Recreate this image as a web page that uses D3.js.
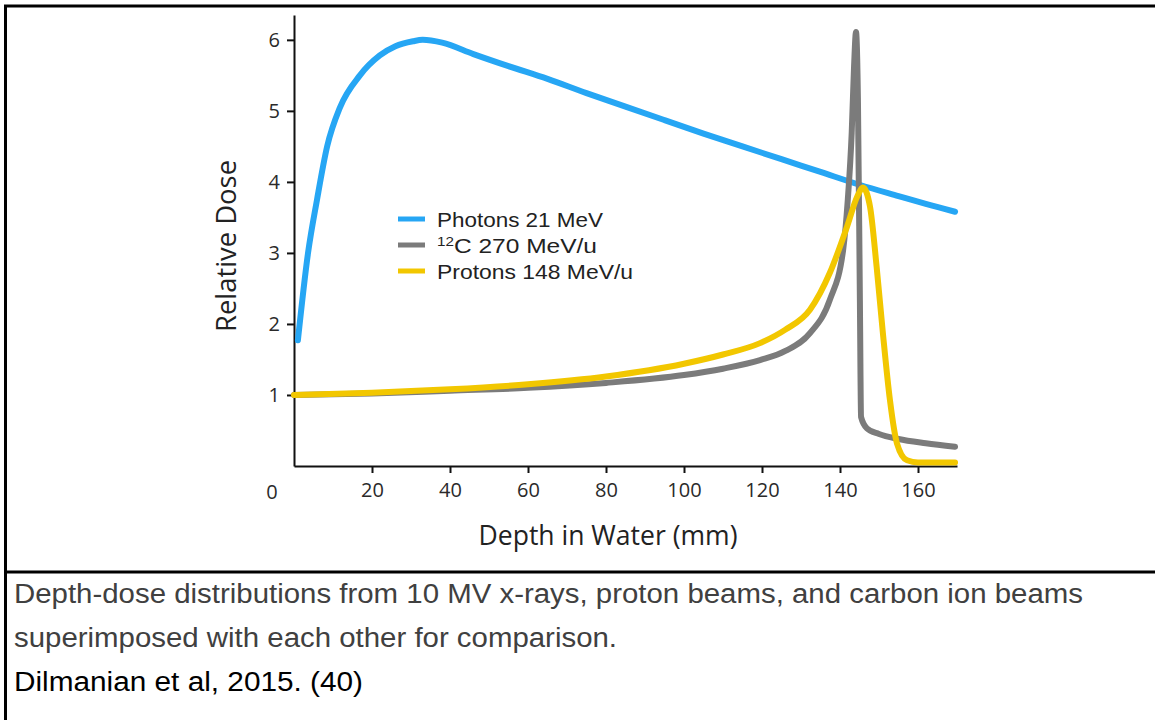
<!DOCTYPE html>
<meta charset="utf-8">
<style>
body { margin: 0; background: #fff; }
.curve { fill: none; stroke-width: 6px; stroke-linejoin: round; stroke-linecap: round; }
.axis path, .axis line { stroke: #111; stroke-width: 2px; }
.axis .tick text, .origin { font-family: "Open Sans", sans-serif; font-size: 20px; fill: #2a2a2a; }
.title { font-family: "Open Sans", sans-serif; font-size: 27px; fill: #222; }
.legend { font-family: "Liberation Sans", Arial, sans-serif; font-size: 21px; fill: #222; }
.caption { font-family: "Liberation Sans", Arial, sans-serif; font-size: 27px; }
</style>
<body>
<svg id="chart" width="1155" height="720"></svg>
<script src="https://d3js.org/d3.v7.min.js"></script>
<script>

// depth (mm) / relative dose
var depthPhotons = [1, 3.6, 5.9, 8.5, 11.8, 16.9, 22, 26, 30.5, 33, 38, 46, 55, 65, 75, 85, 95, 105, 115, 125, 135, 145, 155, 162, 169.5];
var dosePhotons  = [1.77, 3.0, 3.75, 4.5, 5.05, 5.5, 5.78, 5.91, 5.98, 6.0, 5.96, 5.8, 5.63, 5.45, 5.25, 5.06, 4.87, 4.68, 4.5, 4.32, 4.14, 3.96, 3.8, 3.69, 3.58];

var depthCarbon = [0, 20, 40, 60, 80, 100, 110, 119.5, 126, 132.3, 137.4, 140.8, 142, 143, 143.6, 144.1, 144.6, 145.1, 145.4, 146.9, 150, 155, 162, 169.5];
var doseCarbon  = [1.0, 1.02, 1.06, 1.1, 1.17, 1.28, 1.37, 1.49, 1.62, 1.87, 2.34, 3.04, 3.75, 4.69, 5.62, 6.11, 5.15, 2.34, 0.69, 0.53, 0.45, 0.38, 0.32, 0.27];

var depthProtons = [0, 20, 40, 60, 80, 100, 110, 119.5, 126, 132.3, 137.4, 141.8, 144.4, 145.9, 147.7, 149.4, 151, 152.8, 154.6, 157.2, 160, 169.5];
var doseProtons  = [1.0, 1.03, 1.08, 1.15, 1.26, 1.44, 1.57, 1.73, 1.92, 2.2, 2.72, 3.37, 3.79, 3.92, 3.65, 2.8, 1.87, 0.93, 0.32, 0.08, 0.05, 0.05];

var seriesNames  = ["Photons 21 MeV", "C 270 MeV/u", "Protons 148 MeV/u"];
var seriesColors = ["#26a6f4", "#7b7b7b", "#f2c700"];
var xTicks = [20, 40, 60, 80, 100, 120, 140, 160];
var yTicks = [1, 2, 3, 4, 5, 6];

var captionLines = [
  "Depth-dose distributions from 10 MV x-rays, proton beams, and carbon ion beams",
  "superimposed with each other for comparison.",
  "Dilmanian et al, 2015. (40)"
];

var svg = d3.select("#chart");

// table frame
svg.append("line").attr("x1", 4).attr("x2", 1155).attr("y1", 6).attr("y2", 6).attr("stroke", "#000").attr("stroke-width", 3);
svg.append("line").attr("x1", 5.5).attr("x2", 5.5).attr("y1", 5).attr("y2", 720).attr("stroke", "#000").attr("stroke-width", 3);
svg.append("line").attr("x1", 4).attr("x2", 1155).attr("y1", 572).attr("y2", 572).attr("stroke", "#000").attr("stroke-width", 3);

var x = d3.scaleLinear().domain([0, 170]).range([294, 957]);
var y = d3.scaleLinear().domain([0, 6.35]).range([466, 15]);

// axes
svg.append("g")
    .attr("class", "axis")
    .attr("transform", "translate(0," + y(0) + ")")
    .call(d3.axisBottom(x).tickValues(xTicks).tickFormat(d3.format("d")).tickSize(7).tickSizeOuter(0).tickPadding(10));

svg.append("g")
    .attr("class", "axis")
    .attr("transform", "translate(" + x(0) + ",0)")
    .call(d3.axisLeft(y).tickValues(yTicks).tickFormat(d3.format("d")).tickSize(7).tickSizeOuter(0).tickPadding(7));

// origin label sits left of the axis
svg.append("text")
    .attr("class", "origin")
    .attr("x", x(0) - 22).attr("y", 499)
    .attr("text-anchor", "middle")
    .text("0");

svg.append("text")
    .attr("class", "title")
    .attr("x", 608).attr("y", 545)
    .attr("text-anchor", "middle")
    .attr("textLength", 259).attr("lengthAdjust", "spacingAndGlyphs")
    .text("Depth in Water (mm)");

svg.append("text")
    .attr("class", "title")
    .attr("transform", "translate(236,246) rotate(-90)")
    .attr("text-anchor", "middle")
    .attr("textLength", 172).attr("lengthAdjust", "spacingAndGlyphs")
    .text("Relative Dose");

// curves
var smooth = d3.line()
    .x(function(d) { return x(d[0]); })
    .y(function(d) { return y(d[1]); })
    .curve(d3.curveMonotoneX);

var series = [
  d3.zip(depthPhotons, dosePhotons),
  d3.zip(depthCarbon, doseCarbon),
  d3.zip(depthProtons, doseProtons)
];

series.forEach(function(s, i) {
  svg.append("path")
      .datum(s)
      .attr("class", "curve")
      .style("stroke", seriesColors[i])
      .attr("d", smooth);
});

// legend
var legendY = [219, 245, 271];
var legendW = [166, 160, 196];
seriesNames.forEach(function(name, i) {
  svg.append("line")
      .attr("x1", 398).attr("x2", 425)
      .attr("y1", legendY[i]).attr("y2", legendY[i])
      .attr("stroke", seriesColors[i]).attr("stroke-width", 5);
  var t = svg.append("text")
      .attr("class", "legend")
      .attr("x", 437).attr("y", legendY[i] + 8)
      .attr("textLength", legendW[i]).attr("lengthAdjust", "spacingAndGlyphs");
  if (i === 1) {
    t.append("tspan").attr("font-size", "13px").attr("dy", -7).text("12");
    t.append("tspan").attr("dy", 7).text(name);
  } else {
    t.text(name);
  }
});

// caption
var capY = [603, 647, 691];
var capW = [1069, 603, 349];
captionLines.forEach(function(txt, i) {
  svg.append("text")
      .attr("class", "caption")
      .attr("x", 14).attr("y", capY[i])
      .attr("textLength", capW[i]).attr("lengthAdjust", "spacingAndGlyphs")
      .style("fill", i < 2 ? "#404040" : "#000")
      .text(txt);
});

</script>
</body>
